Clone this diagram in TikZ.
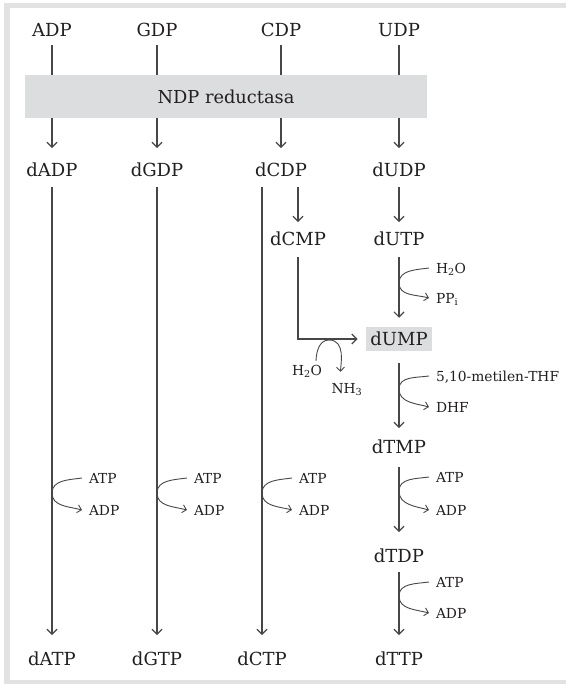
\documentclass[tikz,border=0pt]{standalone}
\usepackage{fontspec}
\setmainfont{DejaVu Serif}
\usetikzlibrary{arrows.meta}
\definecolor{ink}{HTML}{231F20}
\definecolor{wire}{HTML}{474747}
\definecolor{panel}{HTML}{DCDDDF}
\definecolor{rim}{HTML}{E2E2E2}
\tikzset{
  mol/.style={inner sep=0pt, text height=13.5pt, text depth=0pt, text=ink,
              font=\fontsize{18}{21}\selectfont},
  cof/.style={inner sep=0pt, outer xsep=7pt, text height=10pt, text depth=0pt,
              text=ink, anchor=west, font=\fontsize{13.8}{16}\selectfont},
  flow/.style={draw=wire, line width=1.2pt,
               -{Straight Barb[length=5pt,width=10pt]},
               shorten <=10pt, shorten >=17pt},
  side/.style={draw=wire, line width=0.9pt,
               -{Straight Barb[length=4pt,width=8pt]}},
  enzyme/.style={fill=panel, inner sep=0pt, minimum width=402pt,
                 minimum height=43pt, text=ink,
                 font=\fontsize{17.8}{21}\selectfont},
  hilite/.style={mol, fill=panel, inner xsep=4.5pt, inner ysep=5.3pt},
}
\begin{document}
\begin{tikzpicture}[x=1pt,y=1pt]
\useasboundingbox (0,0) rectangle (566,-684);
% page and frame band
\fill[white] (0,0) rectangle (566,-684);
\fill[rim] (4,-3) rectangle (566,-684);
\fill[white] (10,-8) rectangle (566,-680);

% ribonucleotides
\node[mol] (ADP) at (52,-30) {ADP};
\node[mol] (GDP) at (157,-30) {GDP};
\node[mol] (CDP) at (281,-30) {CDP};
\node[mol] (UDP) at (399,-30) {UDP};

% deoxy diphosphates
\node[mol] (dADP) at (52,-170) {dADP};
\node[mol] (dGDP) at (157,-170) {dGDP};
\node[mol] (dCDP) at (281,-170) {dCDP};
\node[mol] (dUDP) at (399,-170) {dUDP};

% pyrimidine branch
\node[mol] (dCMP) at (298,-239) {dCMP};
\node[mol] (dUTP) at (399,-239) {dUTP};
\node[hilite] (dUMP) at (399,-339) {dUMP};
\node[mol] (dTMP) at (399,-447) {dTMP};
\node[mol] (dTDP) at (399,-556) {dTDP};

% deoxy triphosphates
\node[mol] (dATP) at (52,-659) {dATP};
\node[mol] (dGTP) at (157,-659) {dGTP};
\node[mol] (dCTP) at (262,-659) {dCTP};
\node[mol] (dTTP) at (399,-659) {dTTP};

% reduction step (box drawn over the arrows)
\draw[flow, shorten <=8pt, shorten >=15pt] (ADP) -- (dADP);
\draw[flow, shorten <=8pt, shorten >=15pt] (GDP) -- (dGDP);
\draw[flow, shorten <=8pt, shorten >=15pt] (CDP) -- (dCDP);
\draw[flow, shorten <=8pt, shorten >=15pt] (UDP) -- (dUDP);
\node[enzyme] (rnr) at (226,-96.5) {NDP reductasa};

% phosphorylation to triphosphates
\draw[flow] (dADP) -- (dATP);
\draw[flow] (dGDP) -- (dGTP);
\draw[flow] (dCDP.south -| dCTP) -- (dCTP);

% dCDP / dUDP routes to dUMP
\draw[flow, shorten >=10pt] (dCDP.south -| dCMP) -- (dCMP);
\draw[flow, shorten >=10pt] (dUDP) -- (dUTP);
\draw[flow, shorten <=11pt, shorten >=9pt] (dUTP) -- (dUMP);
\draw[flow, shorten <=11pt, shorten >=8pt] (dCMP) |- (dUMP);
\draw[flow, shorten <=12pt, shorten >=12pt] (dUMP) -- (dTMP);
\draw[flow, shorten <=13pt] (dTMP) -- (dTDP);
\draw[flow, shorten <=9pt] (dTDP) -- (dTTP);

% cofactors: ATP -> ADP on the purine/cytidine lines
\node[cof] (atpA) at (82,-478) {ATP};
\node[cof] (adpA) at (82,-510) {ADP};
\coordinate (mA) at (52,-493);
\draw[side] (atpA.west) to[out=188,in=90] (mA) to[out=-90,in=165] (adpA.west);

\node[cof] (atpG) at (187,-478) {ATP};
\node[cof] (adpG) at (187,-510) {ADP};
\coordinate (mG) at (157,-493);
\draw[side] (atpG.west) to[out=188,in=90] (mG) to[out=-90,in=165] (adpG.west);

\node[cof] (atpC) at (292,-478) {ATP};
\node[cof] (adpC) at (292,-510) {ADP};
\coordinate (mC) at (262,-493);
\draw[side] (atpC.west) to[out=188,in=90] (mC) to[out=-90,in=165] (adpC.west);

% dUTP -> dUMP
\node[cof] (h2oU) at (429,-268) {H\textsubscript{2}O};
\node[cof] (ppi) at (429,-298) {PP\textsubscript{i}};
\coordinate (mU) at (399,-283);
\draw[side] (h2oU.west) to[out=188,in=90] (mU) to[out=-90,in=165] (ppi.west);

% dCMP deamination
\node[cof, outer xsep=0pt, anchor=center] (h2oD) at (307,-370) {H\textsubscript{2}O};
\node[cof, outer xsep=0pt, anchor=center] (nh3) at (347,-388) {NH\textsubscript{3}};
\coordinate (archT) at (329,-340);
\draw[side, shorten >=11pt] ([xshift=9pt,yshift=4pt]h2oD.north) to[out=88,in=180] (archT)
  to[out=0,in=92] ([xshift=-6pt]nh3.north);

% dUMP -> dTMP
\node[cof] (thf) at (429,-376) {5,10-metilen-THF};
\node[cof] (dhf) at (429,-407) {DHF};
\coordinate (mT) at (399,-389);
\draw[side] (thf.west) to[out=188,in=90] (mT) to[out=-90,in=165] (dhf.west);

% dTMP -> dTDP
\node[cof] (atpT1) at (429,-477) {ATP};
\node[cof] (adpT1) at (429,-510) {ADP};
\coordinate (mT1) at (399,-491);
\draw[side] (atpT1.west) to[out=188,in=90] (mT1) to[out=-90,in=165] (adpT1.west);

% dTDP -> dTTP
\node[cof] (atpT2) at (429,-582) {ATP};
\node[cof] (adpT2) at (429,-613) {ADP};
\coordinate (mT2) at (399,-596);
\draw[side] (atpT2.west) to[out=188,in=90] (mT2) to[out=-90,in=165] (adpT2.west);
\end{tikzpicture}
\end{document}
